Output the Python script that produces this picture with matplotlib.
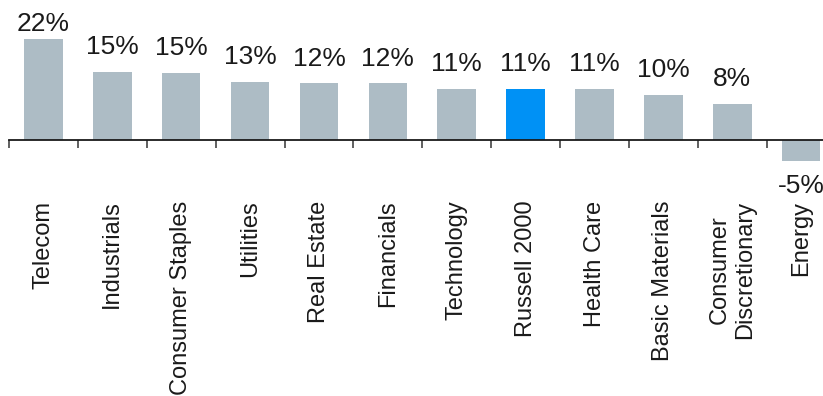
import matplotlib
matplotlib.use("Agg")
import matplotlib.pyplot as plt

# Sector returns (%)
sectors = ["Telecom", "Industrials", "Consumer Staples", "Utilities", "Real Estate",
           "Financials", "Technology", "Russell 2000", "Health Care", "Basic Materials",
           "Consumer\nDiscretionary", "Energy"]
returns = [22.0, 14.8, 14.6, 12.6, 12.3, 12.3, 11.1, 11.1, 11.1, 9.8, 7.8, -4.6]
highlight = "Russell 2000"

plt.rcParams["font.family"] = ["Liberation Sans", "DejaVu Sans"]

GREY = "#adbcc5"
BLUE = "#0091f5"

fig = plt.figure(figsize=(8.23, 3.96), dpi=100)
ax = fig.add_axes([9 / 823, (396 - 165) / 396, (835.6 - 9) / 823, 165 / 396])

x = list(range(len(sectors)))
colors = [BLUE if s == highlight else GREY for s in sectors]
ax.bar(x, returns, width=0.56, color=colors, zorder=2)

ax.set_xlim(-0.5, len(sectors) - 0.5)
ax.set_ylim(-5.58, 30.54)

# baseline axis at zero with boundary ticks
for side in ["top", "right", "left"]:
    ax.spines[side].set_visible(False)
ax.spines["bottom"].set_position(("data", 0))
ax.spines["bottom"].set_linewidth(1.3)
ax.spines["bottom"].set_color("#1a1a1a")
ax.spines["bottom"].set_zorder(3)
ax.set_yticks([])
ax.set_xticks([i - 0.5 for i in range(len(sectors) + 1)])
ax.set_xticklabels([])
ax.tick_params(axis="x", direction="out", length=5.5, width=1.2, color="#444444")

# value labels
for i, v in enumerate(returns):
    label = f"{v:.0f}%"
    if v >= 0:
        off = 6.0 if i == 0 else 12.8
        ax.annotate(label, (i, v), xytext=(0, off), textcoords="offset points",
                    ha="center", va="baseline", fontsize=19, color="#1a1a1a",
                    annotation_clip=False)
    else:
        ax.annotate(label, (i, v), xytext=(0, -10), textcoords="offset points",
                    ha="center", va="top", fontsize=19, color="#1a1a1a",
                    annotation_clip=False)

# rotated category labels below the axis
for i, s in enumerate(sectors):
    ax.annotate(s, (i, 0), xytext=(0, -44), textcoords="offset points",
                ha="center", va="top", rotation=90, multialignment="center",
                fontsize=17, color="#1a1a1a", annotation_clip=False)

fig.savefig("out.png", dpi=100)
